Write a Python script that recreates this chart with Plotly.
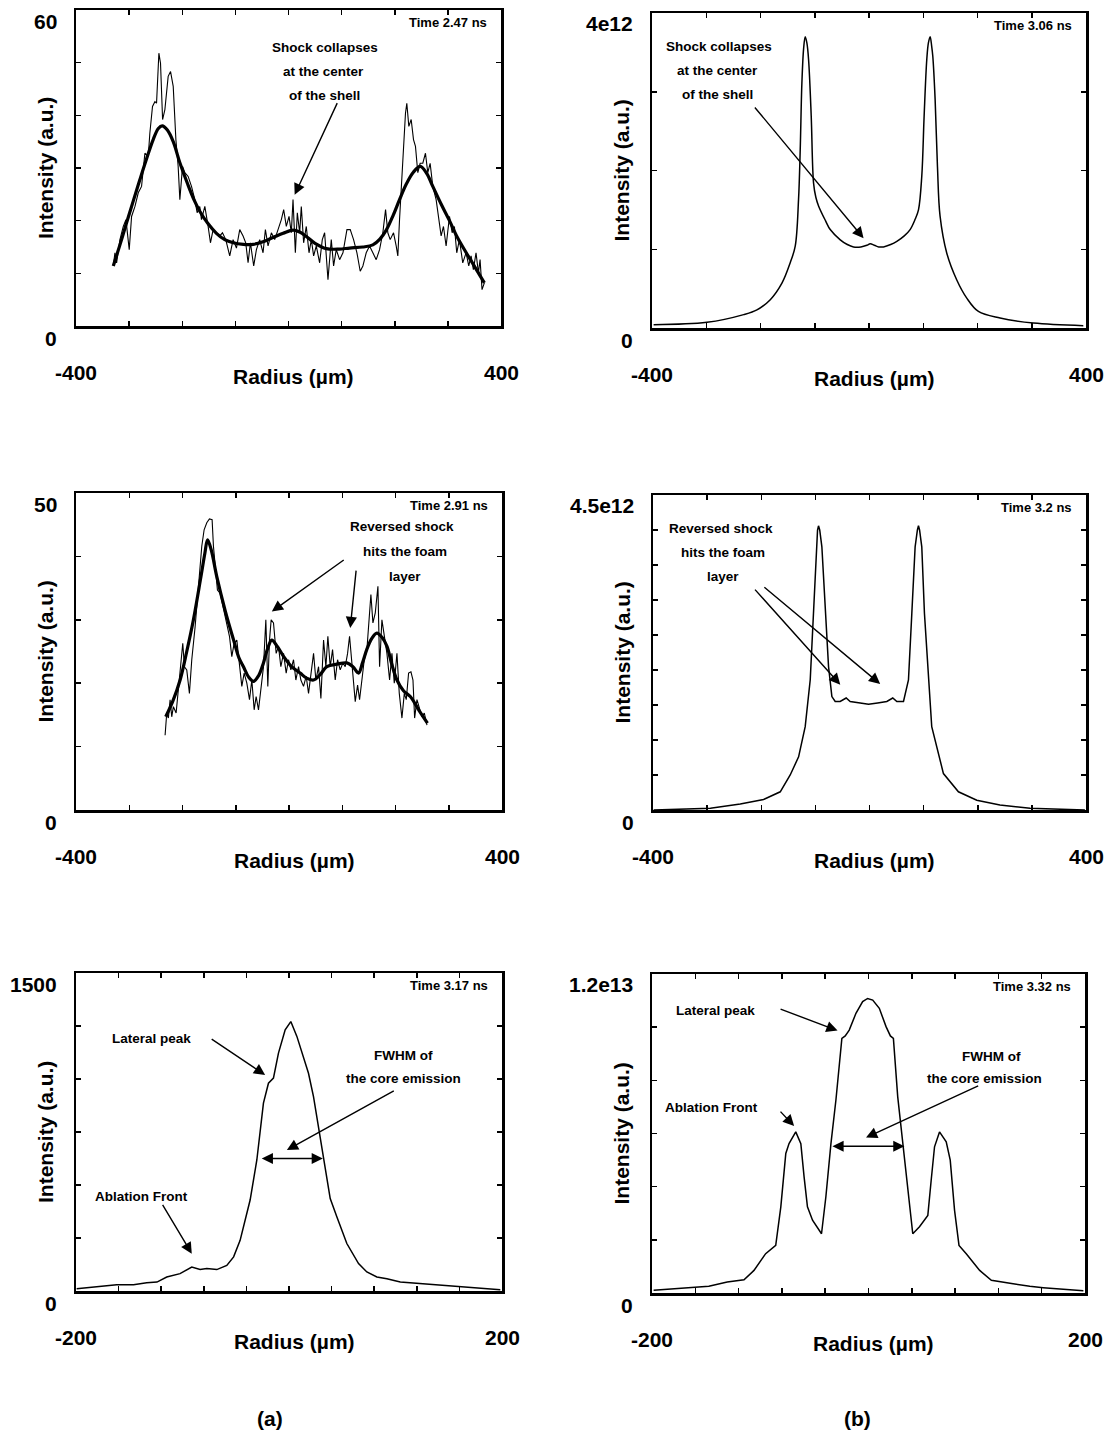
import plotly.graph_objects as go

# ------------------------------------------------------------------ data
# Panel (a) top: Time 2.47 ns  (radius in um, intensity a.u.)
a1_raw_r = [-329.8, -326.7, -323.6, -317.3, -311, -306, -299.8, -295.4, -289, -282.8, -276.6, -270.3, -264, -261,
            -256, -251.5, -248.4, -244, -240.9, -237, -232.7, -226.5, -222, -217, -212, -207.7, -204.5, -199.5,
            -195.1, -188.9, -182.6, -176.3, -172, -167, -163.8, -157.5, -151.3, -146.9, -141.9, -135.6, -129.4,
            -124.3, -118.1, -110.6, -104.3, -98, -91.8, -85.5, -80.5, -76.1, -71.7, -65.5, -60.4, -54.2, -47.9,
            -43.5, -38.5, -32.2, -26, -19.7, -13.5, -9.1, -4.1, 1.0, 5.3, 8.5, 12.9, 16.6, 21, 24.1, 28.5, 33.5,
            38.6, 43, 47.3, 52.3, 58.6, 63.6, 68, 74.3, 80.5, 84.9, 89.9, 96.2, 102.5, 110, 116.2, 122.5, 128.8,
            135, 140, 146.3, 152.6, 158.8, 165.1, 171.4, 177.6, 182.7, 187, 191.4, 197.7, 202.7, 205.8, 209,
            215.2, 220.2, 222.7, 226.5, 230.9, 235.3, 239, 243.4, 247.8, 252.8, 257.8, 262.2, 266.6, 271.6,
            277.9, 282.9, 287.3, 291.7, 296.7, 303, 308, 312.3, 316.7, 321.7, 328, 334.3, 339.3, 343.7, 348,
            353, 357.5, 360.6, 364.3, 368.7]
a1_raw_i = [11.4, 13.9, 12.0, 16.4, 18.9, 20.2, 14.5, 20.8, 22.7, 25.3, 26.5, 32.8, 32.2, 36.6,
            41.7, 42.6, 42.3, 51.8, 49.9, 39.2, 41.1, 47.4, 48.3, 45.5, 35.4, 30.3, 24.0, 30.3,
            29.1, 28.4, 26.5, 24.0, 21.5, 22.7, 20.2, 22.7, 18.9, 15.8, 18.3, 17.7, 17.1,
            17.7, 16.4, 13.3, 16.4, 14.8, 18.3, 17.1, 15.8, 12.0, 15.8, 11.4, 14.5, 16.4, 13.9,
            18.3, 15.2, 17.7, 16.4, 18.3, 20.2, 22.1, 18.9, 20.8, 17.7, 24.0, 13.9, 21.5, 17.7, 22.7, 15.8, 18.9,
            13.9, 16.4, 13.3, 15.2, 12.0, 16.4, 17.7, 8.8, 16.4, 11.4, 14.5, 12.6, 13.9, 18.3, 18.3, 16.4, 13.9,
            10.4, 11.4, 13.9, 15.2, 13.9, 12.6, 14.5, 17.7, 22.1, 17.7, 16.4, 17.7, 15.2, 13.3, 20.2,
            31.6, 40.4, 42.3, 37.9, 39.2, 35.4, 34.1, 29.1, 30.9, 30.9, 32.8, 29.1, 30.9, 26.5,
            24.0, 20.8, 17.1, 18.9, 15.2, 20.8, 17.7, 18.9, 13.9, 16.4, 12.0, 13.9, 11.4, 13.3, 10.7,
            13.9, 10.1, 12.6, 6.9, 8.2]
a1_fit_r = [-329.8, -317, -304.8, -292, -279.7, -267, -254.7, -245, -237.7, -228, -217, -204.5, -190, -178,
            -167, -152, -135.6, -120, -104, -85, -66.7, -48, -29, -10, 8.5, 22, 33.5, 50, 71, 95, 115, 140,
            158.8, 172, 184, 197, 209, 222, 235, 248, 260, 271.6, 287, 303, 318, 334, 352, 368.7]
a1_fit_i = [11.4, 15.5, 19.6, 23.8, 27.8, 31.8, 35.4, 37.5, 38.0, 37.2, 35.0, 31.0, 27.0, 24.0,
            21.8, 19.5, 17.6, 16.4, 15.8, 15.5, 15.5, 16.0, 16.8, 17.6, 18.2, 17.8, 17.0, 15.7, 14.7, 14.6, 14.8, 15.0,
            15.4, 16.5, 18.2, 21.0, 24.0, 27.0, 29.2, 30.3, 29.0, 26.5, 23.2, 20.0, 16.8, 14.0, 11.0, 8.2]

# Panel (a) middle: Time 2.91 ns
a2_raw_r = [-232.7, -229.6, -226.5, -223.3, -220.2, -217.1, -212, -207.7, -203.3, -199.5, -196.4, -192, -187,
            -182.6, -176.3, -170.1, -163.8, -159.4, -154.4, -149.4, -144.4, -141.9, -138.8, -134.4, -129.4,
            -124.3, -118.1, -111.8, -107.4, -103, -98, -93, -88.6, -84.2, -79.2, -74.2, -69.8, -65.4, -61.7,
            -57.3, -52.9, -47.9, -43.5, -39.8, -36.6, -33.5, -29.1, -24.1, -19.7, -15.3, -10.3, -5.3, -0.9,
            3.5, 8.5, 12.9, 17.9, 22.3, 27.3, 32.3, 36.7, 41.1, 46.1, 50.5, 55.5, 59.9, 64.9, 69.3, 73, 77.4,
            81.8, 86.8, 91.2, 96.2, 101.2, 105.6, 110, 113.7, 118.1, 121.3, 124.4, 128.8, 132.5, 136.9, 141.3,
            146.3, 150.7, 153.8, 157.6, 162, 167, 170.1, 174.5, 178.9, 183.9, 188.9, 193.3, 197.7, 202.7,
            207.1, 212.1, 216.5, 220.2, 224.6, 229, 232.8, 235.9, 240.3, 245.3, 249.7, 254.1, 259.1]
a2_raw_i = [11.8, 15.3, 14.5, 17.4, 14.7, 16.3, 15.3, 19.5, 23.7, 26.3, 22.6, 22.1, 18.4,
            23.7, 28.9, 34.7, 41.6, 44.2, 45.3, 45.9, 45.8, 41.6, 38.4, 34.7, 34.2,
            32.1, 30.0, 27.4, 24.2, 26.3, 26.8, 22.6, 19.5, 21.6, 20.0, 17.4, 20.5, 15.8, 17.9,
            15.8, 19.5, 22.6, 30.0, 19.5, 26.8, 30.0, 29.5, 24.7, 25.8, 22.6, 24.7, 21.6, 23.7,
            22.1, 23.7, 20.5, 22.6, 20.5, 19.5, 21.1, 18.4, 21.1, 24.7, 20.5, 22.6, 17.6, 26.8, 22.6, 27.4, 22.6,
            25.3, 20.5, 23.7, 22.1, 23.2, 22.6, 24.7, 27.4, 22.6, 19.5, 17.1, 19.7, 17.4, 20.5, 23.7,
            25.3, 31.1, 34.0, 29.5, 31.1, 35.3, 22.6, 30.0, 27.4, 24.7, 20.5, 24.7, 20.0, 24.7,
            18.4, 14.5, 18.4, 17.4, 21.6, 21.8, 20.5, 14.5, 17.4, 15.8, 14.7, 15.3, 13.4]
a2_fit_r = [-231.5, -218, -204.5, -192, -179.5, -166, -158, -153, -146, -135.6, -120, -104, -94, -85.5, -76,
            -66.7, -57, -48, -40, -32.3, -22, -10, 5, 21, 33, 46, 58, 71, 90, 108.7, 120, 130.6, 138, 146, 155,
            165, 175, 184, 193, 202.7, 215, 227.7, 245, 260]
a2_fit_i = [14.7, 17.2, 20.5, 25.0, 30.0, 36.5, 40.5, 42.6, 41.0, 36.8, 31.5, 26.8, 24.0, 22.6, 21.0,
            20.3, 21.2, 23.2, 25.5, 26.8, 25.8, 24.2, 22.6, 21.6, 20.8, 20.5, 21.3, 22.6, 23.0, 23.2, 22.6, 21.6,
            23.2, 25.3, 27.0, 27.9, 27.2, 25.8, 23.0, 20.5, 18.8, 17.9, 15.6, 13.7]

# Panel (a) bottom: Time 3.17 ns
a3_r = [-199.4, -177.4, -161.8, -146, -133.6, -124, -114.8, -102.3, -91.3, -83.5, -77.2, -67.8, -58.4, -52,
        -45.9, -36.5, -30.2, -24, -19.3, -14.6, -9.9, -3.6, 1.7, 7.4, 13.6, 18.3, 23, 29.3, 32.4, 38.7, 44.9,
        54.3, 65.3, 73.1, 82.5, 91.9, 104.5, 123.2, 142, 160.8, 179.6, 198.4]
a3_i = [11, 22, 30, 30, 39, 42, 66, 82, 113, 101, 106, 101, 121, 161,
        239, 429, 618, 886, 980, 1004, 1122, 1232, 1271, 1201, 1106, 1027, 917, 728, 633, 436, 350,
        224, 129, 90, 66, 58, 42, 35, 27, 19, 14, 6]

# Panel (b) top: Time 3.06 ns (intensity in units of 1e12)
b1_r = [-397, -298.7, -231, -206.6, -182, -160.5, -145.2, -136, -129.9, -126.8, -123.7, -120.5, -117.6, -114.5,
        -111.4, -106.5, -102.2, -98, -93, -80, -71.5, -53, -40, -28.5, -15, -4, 2.2, 10, 18, 26.7, 40, 51.3,
        65, 75.8, 85, 91.2, 97.3, 101.6, 106.5, 109.5, 112.7, 115.5, 117.6, 121.9, 126.2, 131, 143.4, 161.8,
        180.2, 201.7, 241.6, 303, 395]
b1_i = [0.042, 0.072, 0.17, 0.23, 0.36, 0.57, 0.83, 1.04, 1.63, 2.26, 3.11, 3.55, 3.70, 3.62,
        3.41, 2.69, 1.84, 1.66, 1.55, 1.36, 1.25, 1.12, 1.06, 1.03, 1.03, 1.05, 1.07, 1.05, 1.03, 1.03, 1.06, 1.10,
        1.17, 1.25, 1.38, 1.50, 1.93, 2.69, 3.41, 3.62, 3.70, 3.58, 3.45, 2.90, 2.05, 1.42, 0.95, 0.61,
        0.38, 0.21, 0.127, 0.063, 0.03]

# Panel (b) middle: Time 3.2 ns (1e12)
b2_r = [-398.8, -294, -238.8, -195.7, -164.9, -146.5, -131, -118.8, -109.5, -103.4, -98.5, -96, -94.2, -92,
        -88, -81.8, -75.7, -69.5, -63.4, -54.2, -43.1, -35.7, -20, -1.8, 15, 32, 43, 50.5, 62.8, 72, 78.2,
        84.3, 88.5, 90.5, 92.5, 96.6, 101.5, 109, 115, 136.6, 164.3, 198.2, 241, 296.6, 398]
b2_i = [0.0, 0.024, 0.086, 0.15, 0.26, 0.5, 0.76, 1.19, 1.86, 2.81, 3.76, 4.0, 4.06, 4.0,
        3.76, 2.90, 2.05, 1.62, 1.55, 1.55, 1.60, 1.55, 1.53, 1.51, 1.53, 1.55, 1.60, 1.55, 1.55, 1.86, 2.81,
        3.76, 4.0, 4.06, 4.0, 3.76, 2.81, 1.86, 1.19, 0.52, 0.26, 0.14, 0.071, 0.024, 0.0]

# Panel (b) bottom: Time 3.32 ns (1e12)
b3_r = [-198.5, -159.8, -147.5, -130.5, -115, -105.8, -95, -85.7, -81, -76.4, -73.4, -67.2, -62.5, -59.5,
        -56.4, -51.7, -43.4, -39.4, -34.7, -30.1, -24.6, -21.5, -17.8, -11.6, -5.4, -0.8, 3.9, 10, 16.2, 20.2,
        23, 27, 31.7, 36.3, 40.9, 47.1, 54.8, 57.9, 61, 65.6, 71.8, 75.5, 79.5, 83.6, 90.3, 102.7, 113.5,
        133.6, 149, 161.4, 198.5]
b3_i = [0.10, 0.2, 0.25, 0.41, 0.50, 0.85, 1.48, 1.79, 3.24, 5.25, 5.62, 6.06, 5.62, 4.37,
        3.24, 2.74, 2.23, 3.61, 5.62, 7.26, 9.58, 9.67, 9.89, 10.52, 10.96, 11.08, 11.02, 10.71, 10.02, 9.67,
        9.58, 7.38, 5.62, 4.12, 2.23, 2.49, 2.92, 4.24, 5.50, 6.06, 5.69, 5.00, 3.11, 1.79, 1.48, 0.85, 0.48,
        0.35, 0.25, 0.2, 0.08]

# tick labels / texts
y_max_labels = ["60", "4e12", "50", "4.5e12", "1500", "1.2e13"]
y_zero_label = "0"
x_end_labels = [["-400", "400"], ["-400", "400"], ["-400", "400"], ["-400", "400"], ["-200", "200"], ["-200", "200"]]
time_labels = ["Time 2.47 ns", "Time 3.06 ns", "Time 2.91 ns", "Time 3.2 ns", "Time 3.17 ns", "Time 3.32 ns"]
x_title = "Radius (\u00b5m)"
y_title = "Intensity (a.u.)"
shock_lines = ["Shock collapses", "at the center", "of the shell"]
reversed_lines = ["Reversed shock", "hits the foam", "layer"]
panel_letters = ["(a)", "(b)"]

# ------------------------------------------------------------------ layout
W, H = 1107, 1431
FONT = "Liberation Sans, Arial, sans-serif"
boxes = {1: (76, 501, 10, 326), 2: (652, 1086, 13, 328), 3: (76, 502, 493, 810),
         4: (653, 1086, 495, 810), 5: (76, 502, 973, 1291), 6: (652, 1085, 974, 1293)}
xranges = {1: [-400, 400], 2: [-400, 400], 3: [-400, 400], 4: [-400, 400], 5: [-200, 200], 6: [-200, 200]}
yranges = {1: [0, 60], 2: [0, 4], 3: [0, 50], 4: [0, 4.5], 5: [0, 1500], 6: [0, 12]}
xdt = {1: 100, 2: 100, 3: 100, 4: 100, 5: 40, 6: 40}
ydt = {1: 10, 2: 1, 3: 10, 4: 0.5, 5: 250, 6: 2}

NOTE = 13.5
TICKF = 21

fig = go.Figure()


def ax(n):
    return ("x" if n == 1 else f"x{n}"), ("y" if n == 1 else f"y{n}")


def add_line(n, r, i, width, shape="linear"):
    xa, ya = ax(n)
    fig.add_trace(go.Scatter(x=r, y=i, mode="lines", xaxis=xa, yaxis=ya, showlegend=False, hoverinfo="skip",
                             line=dict(color="black", width=width, shape=shape, smoothing=1.0)))


add_line(1, a1_raw_r, a1_raw_i, 1.1)
add_line(1, a1_fit_r, a1_fit_i, 3.2, "spline")
add_line(3, a2_raw_r, a2_raw_i, 1.1)
add_line(3, a2_fit_r, a2_fit_i, 3.2, "spline")
add_line(5, a3_r, a3_i, 1.5)
add_line(2, b1_r, b1_i, 1.5, "spline")
add_line(4, b2_r, b2_i, 1.5)
add_line(6, b3_r, b3_i, 1.5)

annotations = []


def bold(size):
    return dict(family=FONT, size=size, color="black", weight="bold")


def text(n, x, y, s, size=NOTE):
    xa, ya = ax(n)
    annotations.append(dict(xref=xa, yref=ya, x=x, y=y, text=s, showarrow=False, xanchor="center",
                            yanchor="middle", font=bold(size)))


def arrow(n, tail, head, both=False):
    xa, ya = ax(n)
    annotations.append(dict(xref=xa, yref=ya, axref=xa, ayref=ya, x=head[0], y=head[1], ax=tail[0], ay=tail[1],
                            text="", showarrow=True, arrowhead=2, arrowsize=1.6, arrowwidth=1.4,
                            arrowcolor="black", standoff=0, startstandoff=0,
                            arrowside="end+start" if both else "end", startarrowhead=2, startarrowsize=1.6))


layout_axes = {}
for n, (x0, x1, y0, y1) in boxes.items():
    xa, ya = ax(n)
    xkey = "xaxis" if n == 1 else f"xaxis{n}"
    ykey = "yaxis" if n == 1 else f"yaxis{n}"
    common = dict(showline=True, linecolor="black", linewidth=2.5, mirror="ticks", ticks="inside",
                  ticklen=5, tickwidth=1.5, tickcolor="black", showgrid=False, zeroline=False,
                  showticklabels=False, fixedrange=True)
    layout_axes[xkey] = dict(domain=[x0 / W, x1 / W], range=xranges[n], dtick=xdt[n], tick0=xranges[n][0],
                             anchor=ya, **common)
    layout_axes[ykey] = dict(domain=[1 - y1 / H, 1 - y0 / H], range=yranges[n], dtick=ydt[n], tick0=0,
                             anchor=xa, **common)
    dx = f"{xa} domain"
    dy = f"{ya} domain"
    # y tick labels
    annotations.append(dict(xref=dx, yref=dy, x=0, y=1, xanchor="right", yanchor="middle", xshift=-17,
                            yshift=-11, text=y_max_labels[n - 1], showarrow=False, font=bold(TICKF)))
    annotations.append(dict(xref=dx, yref=dy, x=0, y=0, xanchor="right", yanchor="middle", xshift=-17,
                            yshift=-12, text=y_zero_label, showarrow=False, font=bold(TICKF)))
    # x tick labels
    for k, lab in enumerate(x_end_labels[n - 1]):
        annotations.append(dict(xref=dx, yref=dy, x=k, y=0, xanchor="center", yanchor="middle", yshift=-46,
                                text=lab, showarrow=False, font=bold(TICKF)))
    # axis titles
    annotations.append(dict(xref=dx, yref=dy, x=0.5, y=0, xanchor="center", yanchor="middle", xshift=5,
                            yshift=-50, text=x_title, showarrow=False, font=bold(TICKF)))
    annotations.append(dict(xref=dx, yref=dy, x=0, y=0.5, xanchor="center", yanchor="middle", xshift=-31,
                            text=y_title, textangle=-90, showarrow=False, font=bold(TICKF)))
    # time label
    annotations.append(dict(xref=dx, yref=dy, x=1, y=1, xanchor="right", yanchor="top", xshift=-12,
                            yshift=-3, text=time_labels[n - 1], showarrow=False, font=bold(13)))

# panel 1 notes
for s, yv, xv in zip(shock_lines, [52.9, 48.3, 43.8], [68, 66, 68]):
    text(1, xv, yv, s)
arrow(1, (93, 42.6), (11.6, 24.9))
# panel 2 notes
for s, yv, xv in zip(shock_lines, [3.58, 3.27, 2.96], [-277, -280, -280]):
    text(2, xv, yv, s)
arrow(2, (-212.7, 2.82), (-10, 1.14))
# panel 3 notes
for s, yv, xv in zip(reversed_lines, [44.7, 40.8, 36.9], [212, 218, 218]):
    text(3, xv, yv, s)
arrow(3, (105.6, 39.6), (-32.3, 31.3))
arrow(3, (126.3, 38.0), (115, 28.7))
# panel 4 notes
for s, yv, xv in zip(reversed_lines, [4.02, 3.68, 3.34], [-274.5, -270.8, -270.8]):
    text(4, xv, yv, s)
arrow(4, (-214, 3.17), (-54, 1.79))
arrow(4, (-197, 3.2), (19.7, 1.8))
# panel 5 notes
text(5, -128.9, 1193, "Lateral peak")
arrow(5, (-74, 1193), (-22.4, 1019))
text(5, 107.6, 1109, "FWHM of")
text(5, 107.6, 1004, "the core emission")
arrow(5, (99.8, 948), (-2, 665))
arrow(5, (-27, 625), (31.8, 625), both=True)
text(5, -138.3, 444, "Ablation Front")
arrow(5, (-119.5, 413), (-91.3, 176))
# panel 6 notes
text(6, -141.3, 10.64, "Lateral peak")
arrow(6, (-82.6, 10.7), (-28.6, 9.87))
text(6, 113.5, 8.91, "FWHM of")
text(6, 107.3, 8.07, "the core emission")
arrow(6, (102.7, 7.82), (-2.3, 5.85))
arrow(6, (-34.7, 5.52), (33.2, 5.52), both=True)
text(6, -145, 6.98, "Ablation Front")
arrow(6, (-82.6, 6.88), (-68.7, 6.28))

# panel letters
for lab, px in zip(panel_letters, [270, 857]):
    annotations.append(dict(xref="paper", yref="paper", x=px / W, y=1 - 1418 / H, xanchor="center",
                            yanchor="middle", text=lab, showarrow=False, font=bold(TICKF)))

fig.update_layout(width=W, height=H, margin=dict(l=0, r=0, t=0, b=0), paper_bgcolor="white",
                  plot_bgcolor="white", annotations=annotations, hovermode=False, **layout_axes)
fig.write_html("out.html", config={"displayModeBar": False, "staticPlot": True},
               post_script="document.body.style.margin='0';document.body.style.overflow='hidden';")
